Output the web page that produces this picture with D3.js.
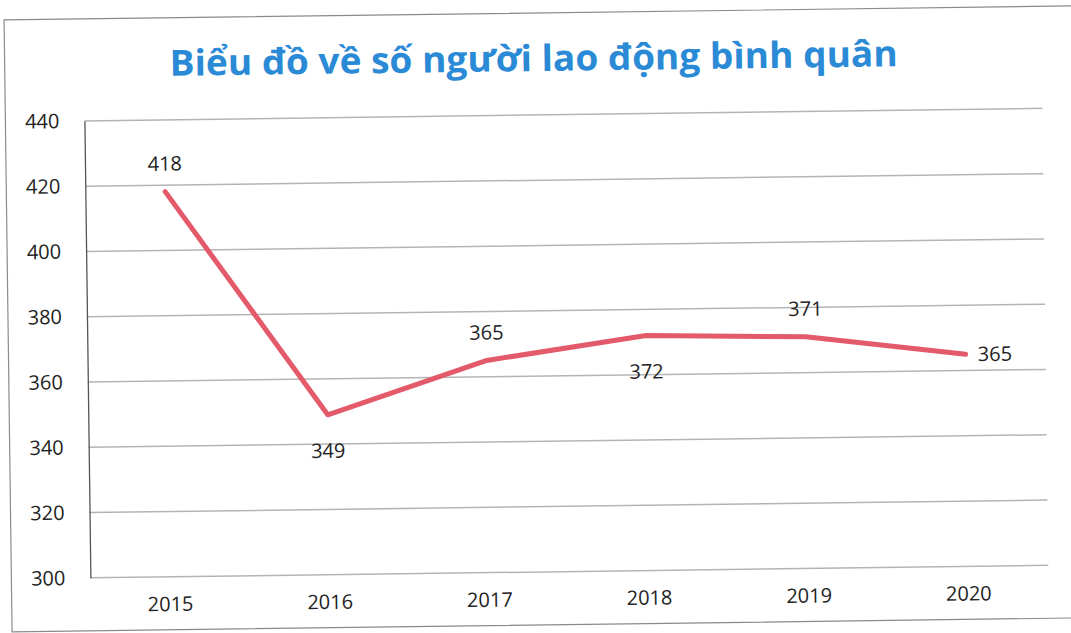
<!DOCTYPE html>
<html>
<head>
<meta charset="utf-8">
<script src="https://cdn.jsdelivr.net/npm/d3@7"></script>
<style>
  body { margin: 0; background: #fff; }
</style>
</head>
<body>
<div id="chart"></div>
<script>
// data
var years = ["2015", "2016", "2017", "2018", "2019", "2020"];
var workers = [418, 349, 365, 372, 371, 365];
var yTicks = [300, 320, 340, 360, 380, 400, 420, 440];
// where each data label sits relative to its point
var labelPos = ["above", "below", "above", "below", "above", "right"];

var W = 1071, H = 633;
var margin = {top: 115, right: 26, bottom: 61, left: 87};
var width = W - margin.left - margin.right,
    height = H - margin.top - margin.bottom;

var svg = d3.select("#chart").append("svg")
    .attr("width", W)
    .attr("height", H);

// the scan is slightly tilted
var root = svg.append("g")
    .attr("transform", "rotate(-0.75," + W / 2 + "," + H / 2 + ")");

// chart border
root.append("rect")
    .attr("x", 8).attr("y", 13)
    .attr("width", 1070).attr("height", 612)
    .attr("fill", "none")
    .attr("stroke", "#8a8a8a")
    .attr("stroke-width", 1.2);

root.append("text")
    .attr("x", 537).attr("y", 71)
    .attr("text-anchor", "middle")
    .attr("textLength", 728)
    .attr("lengthAdjust", "spacingAndGlyphs")
    .style("font-family", "'Open Sans', sans-serif")
    .style("font-weight", "bold")
    .style("font-size", "36px")
    .style("fill", "#2b8ad6")
    .text("Biểu đồ về số người lao động bình quân");

var g = root.append("g")
    .attr("transform", "translate(" + margin.left + "," + margin.top + ")");

var x = d3.scaleBand()
    .domain(years)
    .range([0, width]);

var y = d3.scaleLinear()
    .domain([300, 440])
    .range([height, 0]);

// gridlines
g.append("g")
  .selectAll("line")
  .data(yTicks)
  .enter()
  .append("line")
    .attr("x1", 0)
    .attr("x2", width)
    .attr("y1", function (d) { return y(d); })
    .attr("y2", function (d) { return y(d); })
    .attr("stroke", "#b4b4b4")
    .attr("stroke-width", 1.5);

// y axis
var yaxis = g.append("g")
    .call(d3.axisLeft(y).tickValues(yTicks).tickSize(0).tickPadding(25));
yaxis.select(".domain").attr("stroke", "#555").attr("stroke-width", 1.3);
yaxis.selectAll("text")
    .style("font-family", "'Open Sans', sans-serif")
    .style("font-size", "20px")
    .style("fill", "#222");

// x axis labels
var xaxis = g.append("g")
    .attr("transform", "translate(0," + height + ")")
    .call(d3.axisBottom(x).tickSize(0).tickPadding(20));
xaxis.select(".domain").remove();
xaxis.selectAll("text")
    .style("font-family", "'Open Sans', sans-serif")
    .style("font-size", "20px")
    .style("fill", "#222");

var line = d3.line()
    .x(function (d, i) { return x(years[i]) + x.bandwidth() / 2; })
    .y(function (d) { return y(d); });

g.append("path")
    .datum(workers)
    .attr("fill", "none")
    .attr("stroke", "#e35a6a")
    .attr("stroke-width", 5)
    .attr("stroke-linejoin", "round")
    .attr("stroke-linecap", "round")
    .attr("d", line);

// data labels
g.append("g")
  .selectAll("text")
  .data(workers)
  .enter()
  .append("text")
    .attr("x", function (d, i) {
      var cx = x(years[i]) + x.bandwidth() / 2;
      return labelPos[i] == "right" ? cx + 12 : cx;
    })
    .attr("y", function (d, i) {
      var cy = y(d);
      if (labelPos[i] == "above") return cy - 28;
      if (labelPos[i] == "below") return cy + 36;
      return cy;
    })
    .attr("dy", "0.35em")
    .attr("text-anchor", function (d, i) { return labelPos[i] == "right" ? "start" : "middle"; })
    .style("font-family", "'Open Sans', sans-serif")
    .style("font-size", "20px")
    .style("fill", "#222")
    .text(function (d) { return d; });
</script>
</body>
</html>
